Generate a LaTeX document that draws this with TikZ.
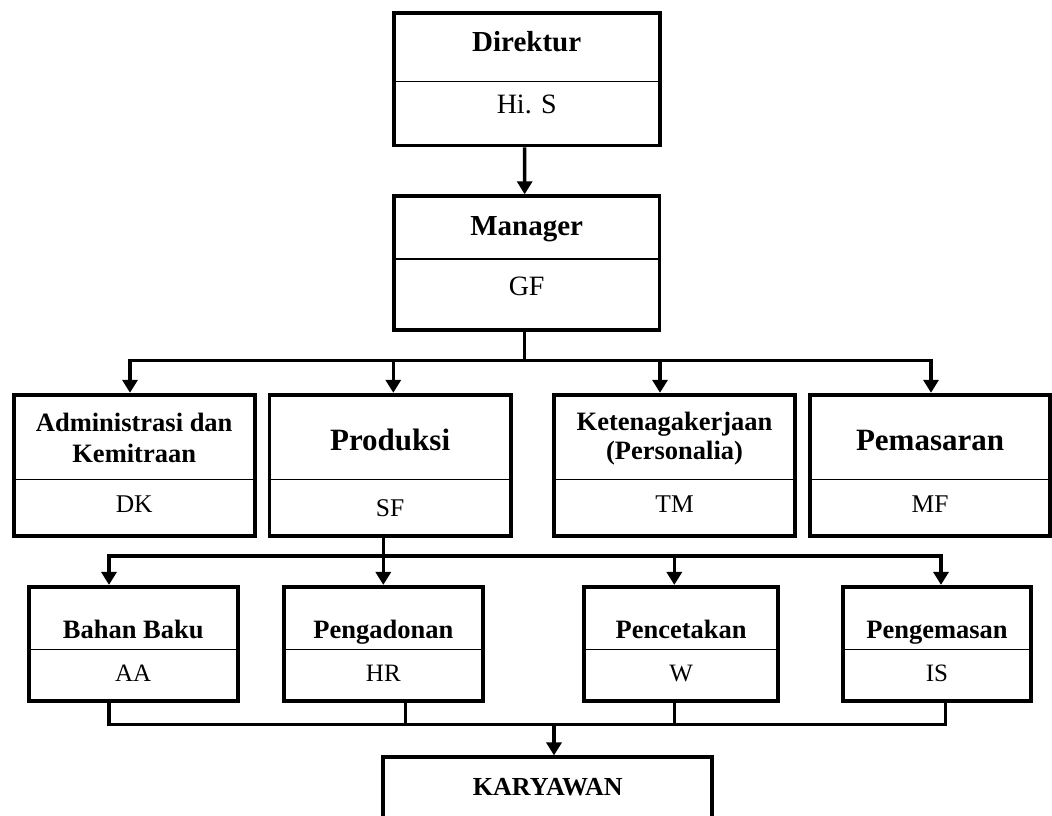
\documentclass[tikz,border=0pt]{standalone}
\usepackage{fontspec}
\setmainfont{Liberation Serif}
\usetikzlibrary{arrows.meta}
\begin{document}
\begin{tikzpicture}[x=1pt,y=-1pt,
  orgbox/.style={draw,line width=3.8pt,inner sep=0pt},
  divider/.style={line width=1.5pt},
  link/.style={line width=3.5pt,line cap=rect},
  arr/.style={line width=3.5pt,-{Triangle[width=15pt,length=13pt]}},
  tA/.style={font=\bfseries\fontsize{29}{34}\selectfont,inner sep=0pt,anchor=base},
  sA/.style={font=\fontsize{28}{33}\selectfont,inner sep=0pt,anchor=base},
  tBig/.style={font=\bfseries\fontsize{31}{36}\selectfont,inner sep=0pt,anchor=base},
  tB/.style={font=\bfseries\fontsize{26.5}{31}\selectfont,inner sep=0pt,anchor=base},
  sB/.style={font=\fontsize{25.5}{30}\selectfont,inner sep=0pt,anchor=base},
  tC/.style={font=\bfseries\fontsize{26.5}{31}\selectfont,inner sep=0pt,anchor=base},
  sC/.style={font=\fontsize{25}{30}\selectfont,inner sep=0pt,anchor=base},
]
\fill[white] (0,0) rectangle (1052,816);
\useasboundingbox (0,0) rectangle (1052,816);
\clip (0,0) rectangle (1052,816);

% Direktur
\node[orgbox,minimum width=266pt,minimum height=132.5pt] (dir) at (526.7,79.25) {};
\draw[divider] (dir.west |- 0,81.7) -- (dir.east |- 0,81.7);
\node[tA] (dirT) at (526.7,52) {Direktur};
\node[sA] (dirS) at (526.7,113) {Hi. S};

% Manager
\node[orgbox,minimum width=265.7pt,minimum height=133.5pt] (mgr) at (526.65,262.95) {};
\draw[divider] (mgr.west |- 0,259) -- (mgr.east |- 0,259);
\node[tA] (mgrT) at (526.65,235) {Manager};
\node[sA] (mgrS) at (526.65,295) {GF};

\draw[arr] ([xshift=-2pt]dir.south) -- ([xshift=-2pt]mgr.north);

% Row 3 boxes
\node[orgbox,minimum width=241pt,minimum height=141.5pt] (adm) at (134.2,465.45) {};
\node[orgbox,minimum width=241.2pt,minimum height=141.5pt] (prod) at (390.1,465.45) {};
\node[orgbox,minimum width=241.5pt,minimum height=141.5pt] (ten) at (674.55,465.45) {};
\node[orgbox,minimum width=240.5pt,minimum height=141.5pt] (pem) at (930.05,465.45) {};
\foreach \b in {adm,prod,ten,pem}
  \draw[divider] (\b.west |- 0,479.3) -- (\b.east |- 0,479.3);
\node[tB] (admT1) at (134.2,431) {Administrasi dan};
\node[tB] (admT2) at (134.2,462) {Kemitraan};
\node[sB] (admS) at (134.2,512) {DK};
\node[tBig] (prodT) at (390.1,450) {Produksi};
\node[sB] (prodS) at (390.1,516) {SF};
\node[tB] (tenT1) at (674.55,430) {Ketenagakerjaan};
\node[tB] (tenT2) at (674.55,459) {(Personalia)};
\node[sB] (tenS) at (674.55,512) {TM};
\node[tBig] (pemT) at (930.05,450) {Pemasaran};
\node[sB] (pemS) at (930.05,512) {MF};

% Manager to row 3
\coordinate (m3) at (524.65,360.7);
\coordinate (a1) at (130,360.7);
\coordinate (a2) at (393.3,360.7);
\coordinate (a3) at (660,360.7);
\coordinate (a4) at (931,360.7);
\draw[link] ([xshift=-2pt]mgr.south) -- (m3);
\draw[link] (a1) -- (a4);
\draw[arr] (a1) -- (a1 |- adm.north);
\draw[arr] (a2) -- (a2 |- prod.north);
\draw[arr] (a3) -- (a3 |- ten.north);
\draw[arr] (a4) -- (a4 |- pem.north);

% Row 4 boxes
\node[orgbox,minimum width=209pt,minimum height=113.9pt] (bb) at (133.2,643.75) {};
\node[orgbox,minimum width=198.7pt,minimum height=113.9pt] (pgd) at (383.35,643.75) {};
\node[orgbox,minimum width=194.3pt,minimum height=113.9pt] (pct) at (681.15,643.75) {};
\node[orgbox,minimum width=188pt,minimum height=113.9pt] (pgm) at (937,643.75) {};
\foreach \b in {bb,pgd,pct,pgm}
  \draw[divider] (\b.west |- 0,649.7) -- (\b.east |- 0,649.7);
\node[tC] (bbT) at (133.2,638) {Bahan Baku};
\node[sC] (bbS) at (133.2,681) {AA};
\node[tC] (pgdT) at (383.35,638) {Pengadonan};
\node[sC] (pgdS) at (383.35,681) {HR};
\node[tC] (pctT) at (681.15,638) {Pencetakan};
\node[sC] (pctS) at (681.15,681) {W};
\node[tC] (pgmT) at (937,638) {Pengemasan};
\node[sC] (pgmS) at (937,681) {IS};

% Produksi to row 4
\coordinate (p1) at (109,556);
\coordinate (p2) at (383.3,556);
\coordinate (p3) at (674.3,556);
\coordinate (p4) at (941,556);
\draw[link] (p1) -- (p4);
\draw[arr] (prod.south -| p2) -- (p2 |- pgd.north);
\draw[arr] (p1) -- (p1 |- bb.north);
\draw[arr] (p3) -- (p3 |- pct.north);
\draw[arr] (p4) -- (p4 |- pgm.north);

% Karyawan
\node[orgbox,minimum width=329pt,minimum height=102.7pt] (kary) at (547.8,808.65) {};
\node[tC,font=\bfseries\fontsize{26}{31}\selectfont] (karyT) at (547.8,795) {KARYAWAN};

\coordinate (q1) at (109,724.3);
\coordinate (q2) at (405.7,724.3);
\coordinate (q3) at (674.3,724.3);
\coordinate (q4) at (945.7,724.3);
\coordinate (k) at (554,724.3);
\draw[link] (bb.south -| q1) -- (q1);
\draw[link] (pgd.south -| q2) -- (q2);
\draw[link] (pct.south -| q3) -- (q3);
\draw[link] (pgm.south -| q4) -- (q4);
\draw[link] (q1) -- (q4);
\draw[arr] (k) -- (k |- kary.north);
\end{tikzpicture}
\end{document}
